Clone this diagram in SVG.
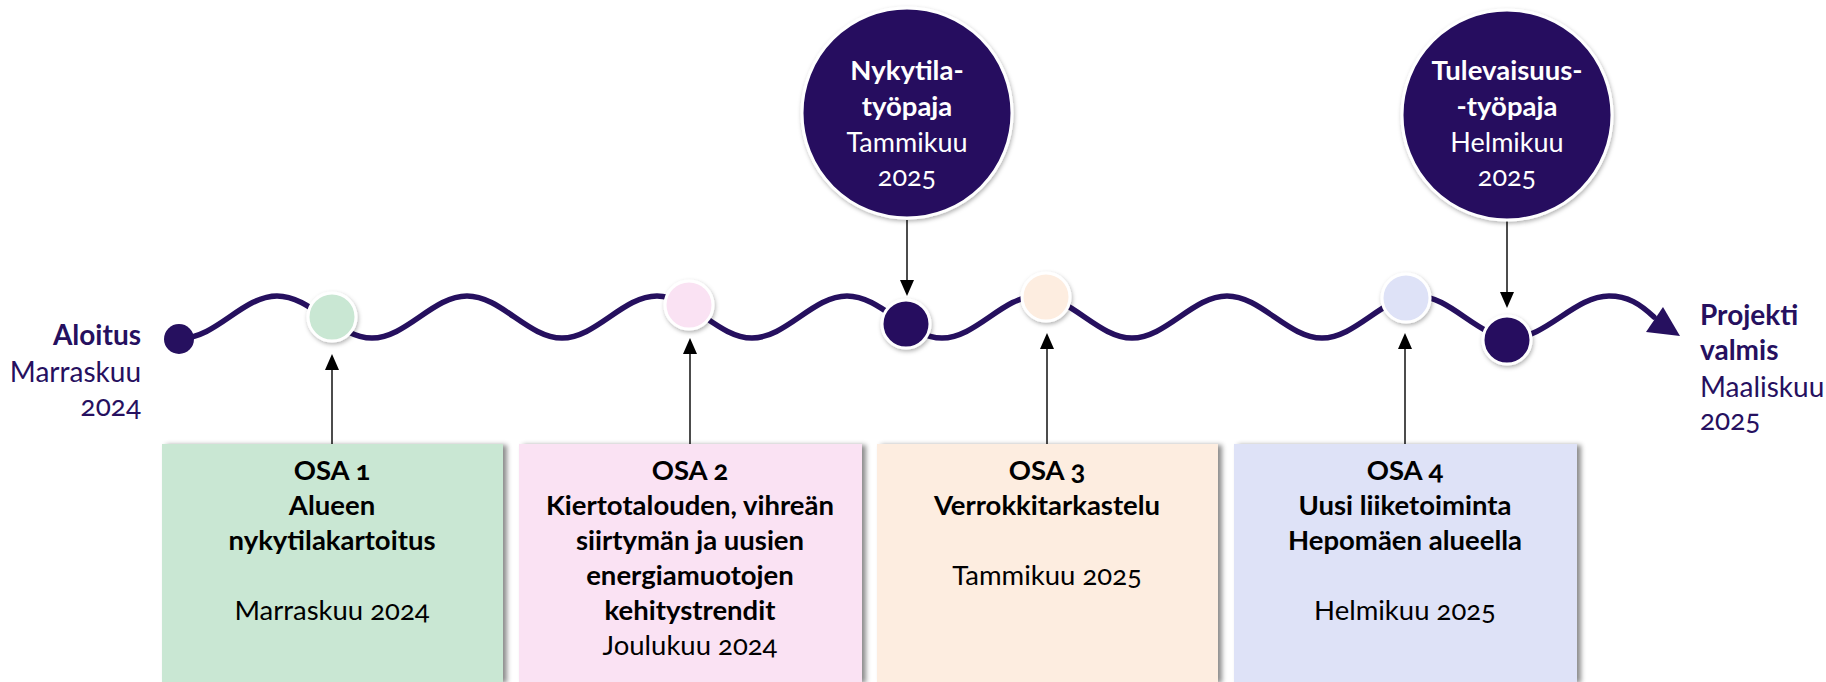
<svg xmlns="http://www.w3.org/2000/svg" width="1826" height="682" viewBox="0 0 1826 682">
<defs>
<style>
text{font-family:Lato,"Open Sans","Liberation Sans",sans-serif;font-variant-numeric:oldstyle-nums;font-feature-settings:"onum" 1}
.bt{font-size:27.5px;font-weight:700;fill:#000;text-anchor:middle}
.rt{font-size:27.5px;font-weight:400;fill:#000;text-anchor:middle}
.cb{font-size:27.5px;font-weight:700;fill:#fff;text-anchor:middle}
.cr{font-size:27px;font-weight:400;fill:#fff;text-anchor:middle}
.pb{font-size:28px;font-weight:700;fill:#26105F}
.pr{font-size:28px;font-weight:400;fill:#26105F}
.wave{fill:none;stroke:#26105F;stroke-width:5.5;stroke-linecap:round}
.conn{stroke:#111;stroke-width:1.5;fill:none}
.dot{stroke:#fff;stroke-width:3;filter:url(#sh)}
</style>
<filter id="sh" x="-30%" y="-30%" width="160%" height="160%"><feDropShadow dx="1" dy="2" stdDeviation="2" flood-color="#000" flood-opacity="0.3"/></filter>
<filter id="bsh" x="-5%" y="-5%" width="112%" height="112%"><feDropShadow dx="4" dy="1" stdDeviation="2.5" flood-color="#000" flood-opacity="0.45"/></filter>
</defs>

<g id="connectors">
<path class="wave" d="M182,338 C216,338 243,296 277,296 C311,296 338,338 372,338 C406,338 433,296 467,296 C501,296 528,338 562,338 C596,338 623,296 657,296 C691,296 718,338 752,338 C786,338 813,296 847,296 C881,296 908,338 942,338 C976,338 1003,296 1037,296 C1071,296 1098,338 1132,338 C1166,338 1193,296 1227,296 C1261,296 1288,338 1322,338 C1356,338 1383,296 1417,296 C1451,296 1478,338 1512,338 C1546,338 1575,296 1609,296 C1628,296 1640,304 1654,317"/>
<polygon points="1680,336 1646,332 1663,307" fill="#26105F"/>
<path class="conn" d="M332,444 V368"/><polygon points="332,354 325,370 339,370" fill="#000"/>
<path class="conn" d="M690,444 V352"/><polygon points="690,338 683,354 697,354" fill="#000"/>
<path class="conn" d="M1047,444 V347"/><polygon points="1047,333 1040,349 1054,349" fill="#000"/>
<path class="conn" d="M1405,444 V347"/><polygon points="1405,333 1398,349 1412,349" fill="#000"/>
<path class="conn" d="M907,220 V282"/><polygon points="907,296 900,280 914,280" fill="#000"/>
<path class="conn" d="M1507,220 V294"/><polygon points="1507,308 1500,292 1514,292" fill="#000"/>
</g>

<g id="start">
<circle cx="179" cy="339" r="15" fill="#26105F"/>
<text class="pb" x="141" y="345" text-anchor="end">Aloitus</text>
<text class="pr" x="141" y="382" text-anchor="end">Marraskuu</text>
<text class="pr" x="141" y="416" text-anchor="end">2024</text>
</g>

<g id="end">
<text class="pb" x="1700" y="325">Projekti</text>
<text class="pb" x="1700" y="360">valmis</text>
<text class="pr" x="1700" y="397">Maaliskuu</text>
<text class="pr" x="1700" y="430">2025</text>
</g>

<g id="m1"><circle class="dot" cx="332" cy="317" r="24" fill="#C9E7D3"/></g>
<g id="m2"><circle class="dot" cx="689" cy="305" r="24" fill="#FAE2F3"/></g>
<g id="m3"><circle class="dot" cx="906" cy="324" r="24" fill="#26105F"/></g>
<g id="m4"><circle class="dot" cx="1046" cy="297" r="24" fill="#FDEDE0"/></g>
<g id="m5"><circle class="dot" cx="1406" cy="298" r="24" fill="#DEE2F7"/></g>
<g id="m6"><circle class="dot" cx="1507" cy="340" r="24" fill="#26105F"/></g>

<g id="workshop1">
<circle class="dot" cx="907" cy="113" r="105" fill="#26105F"/>
<text class="cb" x="907" y="80">Nykytila-</text>
<text class="cb" x="907" y="116">työpaja</text>
<text class="cr" x="907" y="152">Tammikuu</text>
<text class="cr" x="907" y="186">2025</text>
</g>

<g id="workshop2">
<circle class="dot" cx="1507" cy="115" r="105" fill="#26105F"/>
<text class="cb" x="1507" y="80">Tulevaisuus-</text>
<text class="cb" x="1507" y="116">-työpaja</text>
<text class="cr" x="1507" y="152">Helmikuu</text>
<text class="cr" x="1507" y="186">2025</text>
</g>

<g id="osa1">
<rect x="162" y="444" width="341" height="238" fill="#C9E7D3" filter="url(#bsh)"/>
<text class="bt" x="332" y="480">OSA 1</text>
<text class="bt" x="332" y="515">Alueen</text>
<text class="bt" x="332" y="550">nykytilakartoitus</text>
<text class="rt" x="332" y="620">Marraskuu 2024</text>
</g>

<g id="osa2">
<rect x="519" y="444" width="343" height="238" fill="#FAE2F3" filter="url(#bsh)"/>
<text class="bt" x="690" y="480">OSA 2</text>
<text class="bt" x="690" y="515">Kiertotalouden, vihreän</text>
<text class="bt" x="690" y="550">siirtymän ja uusien</text>
<text class="bt" x="690" y="585">energiamuotojen</text>
<text class="bt" x="690" y="620">kehitystrendit</text>
<text class="rt" x="690" y="655">Joulukuu 2024</text>
</g>

<g id="osa3">
<rect x="877" y="444" width="341" height="238" fill="#FDEDE0" filter="url(#bsh)"/>
<text class="bt" x="1047" y="480">OSA 3</text>
<text class="bt" x="1047" y="515">Verrokkitarkastelu</text>
<text class="rt" x="1047" y="585">Tammikuu 2025</text>
</g>

<g id="osa4">
<rect x="1234" y="444" width="343" height="238" fill="#DEE2F7" filter="url(#bsh)"/>
<text class="bt" x="1405" y="480">OSA 4</text>
<text class="bt" x="1405" y="515">Uusi liiketoiminta</text>
<text class="bt" x="1405" y="550">Hepomäen alueella</text>
<text class="rt" x="1405" y="620">Helmikuu 2025</text>
</g>
</svg>
